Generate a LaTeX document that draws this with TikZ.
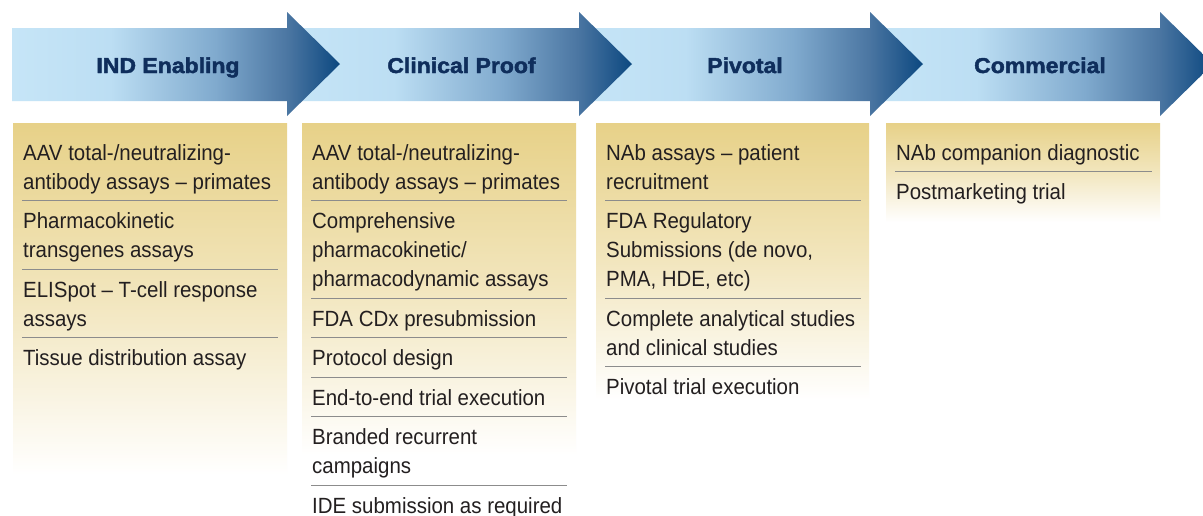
\documentclass[tikz,border=0pt]{standalone}
\usepackage{fontspec}
\setmainfont{Liberation Sans}
\newfontfamily\itemfont{Liberation Sans}[FakeStretch=0.93]
\newfontfamily\headfont{Liberation Sans Bold}[FakeStretch=1.07,FakeBold=2]
\definecolor{arrL}{RGB}{198,229,247}
\definecolor{arrLb}{RGB}{188,222,243}
\definecolor{arrM}{RGB}{128,170,206}
\definecolor{arrDa}{RGB}{75,118,162}
\definecolor{arrD}{RGB}{12,72,128}
\definecolor{tanT}{RGB}{231,209,136}
\definecolor{tanM}{RGB}{242,230,190}
\definecolor{headblue}{RGB}{15,46,92}
\definecolor{itemblack}{RGB}{35,31,32}
\definecolor{sepgray}{RGB}{140,140,140}
\pgfdeclarehorizontalshading{arrowshade}{100bp}{color(0bp)=(arrL); color(25bp)=(arrL); color(40bp)=(arrLb); color(56bp)=(arrM); color(67bp)=(arrDa); color(75bp)=(arrD); color(100bp)=(arrD)}
\pgfdeclareverticalshading{colshade}{100bp}{color(0bp)=(white); color(25bp)=(white); color(50bp)=(tanM); color(75bp)=(tanT); color(100bp)=(tanT)}
\tikzset{
  arrowshape/.style={shading=arrowshade, draw=none},
  colbox/.style={shading=colshade, draw=none},
  headtxt/.style={font=\headfont\fontsize{21.5}{26}\selectfont, text=headblue, anchor=base, inner sep=0pt},
  itemtxt/.style={font=\itemfont\fontsize{22}{29}\selectfont, text=itemblack, anchor=base west, inner sep=0pt, align=left},
  sepline/.style={draw=sepgray, line width=1.3pt},
}
\begin{document}
\begin{tikzpicture}[x=1pt,y=-1pt]
\useasboundingbox (0,0) rectangle (1203,515);
\fill[white] (0,0) rectangle (1203,515);
\clip (0,0) rectangle (1203,515);
% arrows, right to left so that each head lies on the next body
\shade[arrowshape] (875,28) -- (1160,28) -- (1160,12) -- (1213,64) -- (1160,116) -- (1160,101) -- (875,101) -- cycle;
\shade[arrowshape] (584,28) -- (870,28) -- (870,12) -- (923,64) -- (870,116) -- (870,101) -- (584,101) -- cycle;
\shade[arrowshape] (292,28) -- (579,28) -- (579,12) -- (632,64) -- (579,116) -- (579,101) -- (292,101) -- cycle;
\shade[arrowshape] (12,28) -- (287,28) -- (287,12) -- (340,64) -- (287,116) -- (287,101) -- (12,101) -- cycle;
\node[headtxt] (h1) at (168,73) {IND Enabling};
\node[headtxt] (h2) at (461.5,73) {Clinical Proof};
\node[headtxt] (h3) at (745,73) {Pivotal};
\node[headtxt] (h4) at (1040,73) {Commercial};
% column boxes
\shade[colbox] (13,123) rectangle (287,475);
\shade[colbox] (302,123) rectangle (576,455);
\shade[colbox] (596,123) rectangle (869,400);
\shade[colbox] (886,123) rectangle (1160,222);
% column 1 (node positions are the baseline of the last line)
\node[itemtxt] (a1) at (23,189.2) {AAV total-/neutralizing-\\antibody assays – primates};
\draw[sepline] (22,200.7) -- (278,200.7);
\node[itemtxt] (a2) at (23,257.7) {Pharmacokinetic\\transgenes assays};
\draw[sepline] (22,269.2) -- (278,269.2);
\node[itemtxt] (a3) at (23,326.2) {ELISpot – T-cell response\\assays};
\draw[sepline] (22,337.7) -- (278,337.7);
\node[itemtxt] (a4) at (23,365.7) {Tissue distribution assay};
% column 2
\node[itemtxt] (b1) at (312,189.2) {AAV total-/neutralizing-\\antibody assays – primates};
\draw[sepline] (311,200.7) -- (567,200.7);
\node[itemtxt] (b2) at (312,286.7) {Comprehensive\\pharmacokinetic/\\pharmacodynamic assays};
\draw[sepline] (311,298.2) -- (567,298.2);
\node[itemtxt] (b3) at (312,326.2) {FDA CDx presubmission};
\draw[sepline] (311,337.7) -- (567,337.7);
\node[itemtxt] (b4) at (312,365.7) {Protocol design};
\draw[sepline] (311,377.2) -- (567,377.2);
\node[itemtxt] (b5) at (312,405.2) {End-to-end trial execution};
\draw[sepline] (311,416.7) -- (567,416.7);
\node[itemtxt] (b6) at (312,473.7) {Branded recurrent\\campaigns};
\draw[sepline] (311,485.2) -- (567,485.2);
\node[itemtxt] (b7) at (312,513.2) {IDE submission as required};
% column 3
\node[itemtxt] (c1) at (606,189.2) {NAb assays – patient\\recruitment};
\draw[sepline] (605,200.7) -- (861,200.7);
\node[itemtxt] (c2) at (606,286.7) {FDA Regulatory\\Submissions (de novo,\\PMA, HDE, etc)};
\draw[sepline] (605,298.2) -- (861,298.2);
\node[itemtxt] (c3) at (606,355.2) {Complete analytical studies\\and clinical studies};
\draw[sepline] (605,366.7) -- (861,366.7);
\node[itemtxt] (c4) at (606,394.7) {Pivotal trial execution};
% column 4
\node[itemtxt] (d1) at (896,160.2) {NAb companion diagnostic};
\draw[sepline] (895,171.7) -- (1152,171.7);
\node[itemtxt] (d2) at (896,199.7) {Postmarketing trial};
\end{tikzpicture}
\end{document}
